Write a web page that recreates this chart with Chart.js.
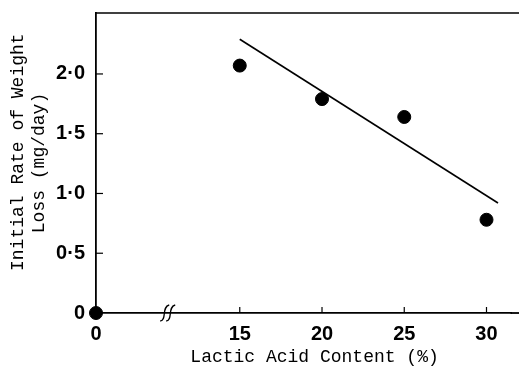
<!DOCTYPE html>
<html>
<head>
<meta charset="utf-8">
<script src="https://cdn.jsdelivr.net/npm/chart.js@4.4.0/dist/chart.umd.min.js"></script>
<style>
html, body { margin: 0; padding: 0; background: #fff; overflow: hidden; }
canvas { display: block; }
</style>
</head>
<body>
<canvas id="mycanvas" width="519" height="368"></canvas>
<script>
var lacticAcid = [0, 15, 20, 25, 30];
var weightLossRate = [0, 2.07, 1.79, 1.64, 0.78];
var fitX = [15, 30.7];
var fitY = [2.29, 0.92];
var xTicks = [0, 15, 20, 25, 30];
var yTicks = [0, 0.5, 1.0, 1.5, 2.0];

// the x axis is broken between 0 and 15: values below the break get moved right
var breakGap = 6.26;
var breakAt = 10.65;
function toAxis(v) { return v < 15 ? v + breakGap : v; }
function fromAxis(v) { return v < 15 ? v - breakGap : v; }

var points = [];
for (var i in lacticAcid) {
	points.push({x: toAxis(lacticAcid[i]), y: weightLossRate[i]});
}
var fitLine = [];
for (var j in fitX) {
	fitLine.push({x: toAxis(fitX[j]), y: fitY[j]});
}

var tickFont = { family: "'Liberation Sans Narrow', 'Liberation Sans'", size: 20, weight: 'bold' };

var axisMarks = {
	id: 'axisMarks',
	afterDraw: function(chart) {
		var ctx = chart.ctx;
		var a = chart.chartArea;
		var xs = chart.scales.x, ys = chart.scales.y;
		ctx.save();
		ctx.strokeStyle = '#000';
		// top frame, and the x axis carried on to the edge of the picture
		ctx.lineWidth = 1.5;
		ctx.beginPath();
		ctx.moveTo(a.left, a.top);
		ctx.lineTo(chart.width, a.top);
		ctx.stroke();
		ctx.lineWidth = 1.8;
		ctx.beginPath();
		ctx.moveTo(a.right - 1, a.bottom);
		ctx.lineTo(chart.width, a.bottom);
		ctx.stroke();

		ctx.lineWidth = 1.2;
		yTicks.forEach(function(v) {
			if (v === 0) return;
			var y = ys.getPixelForValue(v);
			ctx.beginPath();
			ctx.moveTo(a.left, y);
			ctx.lineTo(a.left + 7, y);
			ctx.stroke();
		});
		xTicks.forEach(function(v) {
			if (v === 0) return;
			var x = xs.getPixelForValue(toAxis(v));
			ctx.beginPath();
			ctx.moveTo(x, a.bottom);
			ctx.lineTo(x, a.bottom - 6);
			ctx.stroke();
		});

		// break symbol
		var bx = xs.getPixelForValue(breakAt), by = a.bottom;
		ctx.lineWidth = 1.3;
		[-3, 3].forEach(function(off) {
			ctx.beginPath();
			ctx.moveTo(bx + off - 5, by + 8);
			ctx.bezierCurveTo(bx + off + 2, by + 7, bx + off - 4, by - 6, bx + off + 4, by - 8);
			ctx.stroke();
		});
		ctx.restore();
	}
};

var ctx = document.getElementById('mycanvas');

var scatter = new Chart(ctx, {
	type: 'scatter',
	data: {
		datasets: [
			{
				label: 'Measured',
				data: points,
				backgroundColor: '#000',
				borderColor: '#000',
				pointRadius: 6.5,
				pointHoverRadius: 6.5,
				clip: false
			},
			{
				type: 'line',
				label: 'Fit',
				data: fitLine,
				borderColor: '#000',
				borderWidth: 1.6,
				pointRadius: 0,
				fill: false,
				clip: false
			}
		]
	},
	plugins: [axisMarks],
	options: {
		responsive: false,
		animation: false,
		layout: { padding: { top: 13, right: 0, left: 0, bottom: 0 } },
		plugins: {
			legend: { display: false },
			tooltip: { enabled: false }
		},
		scales: {
			x: {
				type: 'linear',
				min: toAxis(0),
				max: 31.52,
				afterFit: function(scale) {
					scale.height = 55;
				},
				afterBuildTicks: function(scale) {
					scale.ticks = xTicks.map(function(v) { return {value: toAxis(v)}; });
				},
				grid: { display: false },
				border: { display: true, color: '#000', width: 1.8 },
				ticks: {
					color: '#000',
					padding: 1,
					maxRotation: 0,
					font: tickFont,
					callback: function(v) { return String(Math.round(fromAxis(v))); }
				},
				title: {
					display: true,
					text: '  Lactic Acid Content (%)',
					color: '#000',
					font: { family: 'Liberation Mono', size: 18 },
					padding: { top: 0, bottom: 0 }
				}
			},
			y: {
				min: 0,
				max: 2.51,
				afterFit: function(scale) {
					scale.width = 96;
					scale.paddingTop = 0;
					scale.paddingBottom = 0;
				},
				afterBuildTicks: function(scale) {
					scale.ticks = yTicks.map(function(v) { return {value: v}; });
				},
				grid: { display: false },
				border: { display: true, color: '#000', width: 1.8 },
				ticks: {
					color: '#000',
					padding: 3,
					font: tickFont,
					callback: function(v) { return v === 0 ? '0' : v.toFixed(1).replace('.', '\u00B7'); }
				},
				title: {
					display: true,
					text: ['  Initial Rate of Weight', 'Loss (mg/day)'],
					color: '#000',
					font: { family: 'Liberation Mono', size: 18, lineHeight: 1.2 },
					padding: { top: 7, bottom: 0 }
				}
			}
		}
	}
});
</script>
</body>
</html>
